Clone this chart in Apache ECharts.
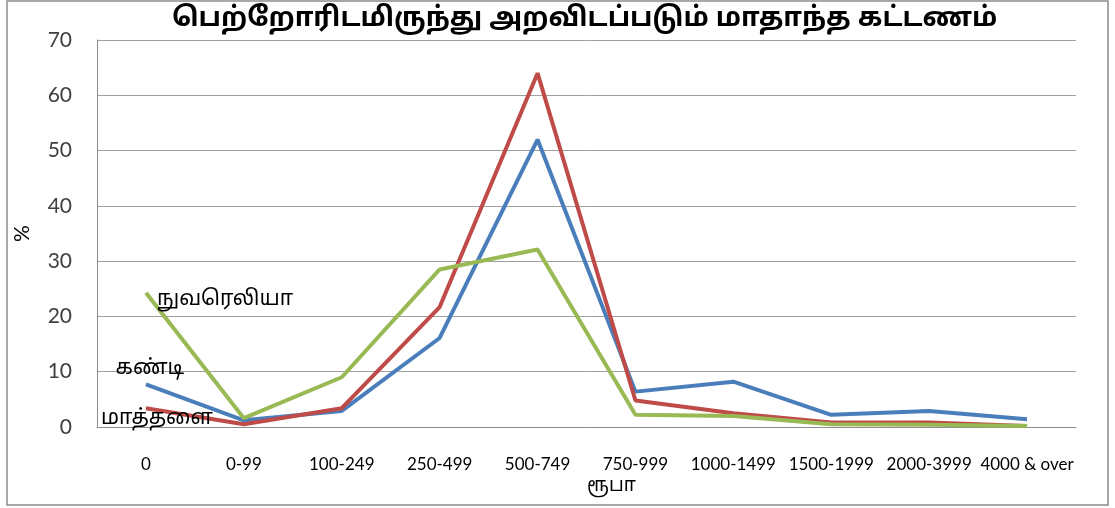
<!DOCTYPE html>
<html>
<head>
<meta charset="utf-8">
<script src="https://cdn.jsdelivr.net/npm/echarts@6/dist/echarts.min.js"></script>
<style>
  html, body { margin: 0; padding: 0; background: #fff; }
  #chart { width: 1115px; height: 508px; }
</style>
</head>
<body>
<div id="chart"></div>
<script>
const categories = ["0", "0-99", "100-249", "250-499", "500-749", "750-999", "1000-1499", "1500-1999", "2000-3999", "4000 & over"]
const kandy = [7.7, 1.2, 2.9, 16.1, 52.0, 6.4, 8.2, 2.2, 2.9, 1.4]
const matale = [3.4, 0.5, 3.4, 21.7, 64.0, 4.8, 2.5, 0.8, 0.8, 0.2]
const nuwaraEliya = [24.3, 1.6, 9.0, 28.5, 32.1, 2.2, 2.0, 0.5, 0.4, 0.2]
const seriesNames = ["கண்டி", "மாத்தளை", "நுவரெலியா"]
const yTicks = [0, 10, 20, 30, 40, 50, 60, 70]

const TAMIL = "'Noto Sans Tamil', 'Lohit Tamil', 'Latha', 'Noto Sans', sans-serif"
const LATIN = "Lato, 'Open Sans', sans-serif"

// put the series name as a label on the first point only
function withFirstLabel(values, name, labelOpts) {
  return values.map((v, i) => i === 0
    ? { value: v, label: Object.assign({ show: true, formatter: name, color: "#000", fontSize: 21, fontFamily: TAMIL }, labelOpts) }
    : v)
}

function lineSeries(name, values, color, labelOpts) {
  return {
    name: name,
    type: "line",
    symbol: "circle",
    symbolSize: 0,
    showSymbol: true,
    data: withFirstLabel(values, name, labelOpts),
    lineStyle: { color: color, width: 4 },
    itemStyle: { color: color },
    label: { show: false },
  }
}

const chart = echarts.init(document.getElementById("chart"))
chart.setOption({
  animation: false,
  title: {
    text: "பெற்றோரிடமிருந்து அறவிடப்படும் மாதாந்த கட்டணம்",
    left: 167,
    top: 2,
    textStyle: { fontSize: 27, fontWeight: "bold", color: "#000", fontFamily: TAMIL },
  },
  graphic: [{
    type: "rect",
    shape: { x: 7, y: 1, width: 1101, height: 504 },
    style: { fill: "none", stroke: "#8c8c8c", lineWidth: 1.5 },
    silent: true,
  }],
  grid: { left: 97, right: 39, top: 40, bottom: 81 },
  xAxis: {
    type: "category",
    data: categories,
    boundaryGap: true,
    name: "ரூபா",
    nameLocation: "middle",
    nameGap: 50,
    nameTextStyle: { fontSize: 19, color: "#000", fontFamily: TAMIL, padding: [0, 0, 0, 50] },
    axisLine: { lineStyle: { color: "#8c8c8c", width: 1 } },
    axisTick: { show: false },
    axisLabel: { color: "#000", fontSize: 17, fontFamily: LATIN, margin: 29, interval: 0 },
  },
  yAxis: {
    type: "value",
    min: 0,
    max: 70,
    interval: 10,
    name: "%",
    nameLocation: "middle",
    nameGap: 64,
    nameRotate: 90,
    nameTextStyle: { fontSize: 21, color: "#000", fontFamily: LATIN },
    axisLine: { show: true, lineStyle: { color: "#8c8c8c", width: 1 } },
    axisTick: { show: false },
    splitLine: { lineStyle: { color: "#a0a0a0", width: 1 } },
    axisLabel: {
      color: "#404040", fontSize: 21, fontFamily: LATIN, margin: 25,
      formatter: v => yTicks.includes(v) ? String(v) : "",
    },
  },
  series: [
    lineSeries(seriesNames[0], kandy, "#4a7ebb", { position: "top", distance: 4, offset: [4, 0] }),
    lineSeries(seriesNames[1], matale, "#be4b48", { position: "right", offset: [-50, 12] }),
    lineSeries(seriesNames[2], nuwaraEliya, "#98b954", { position: "right", offset: [6, 8] }),
  ],
})
</script>
</body>
</html>
